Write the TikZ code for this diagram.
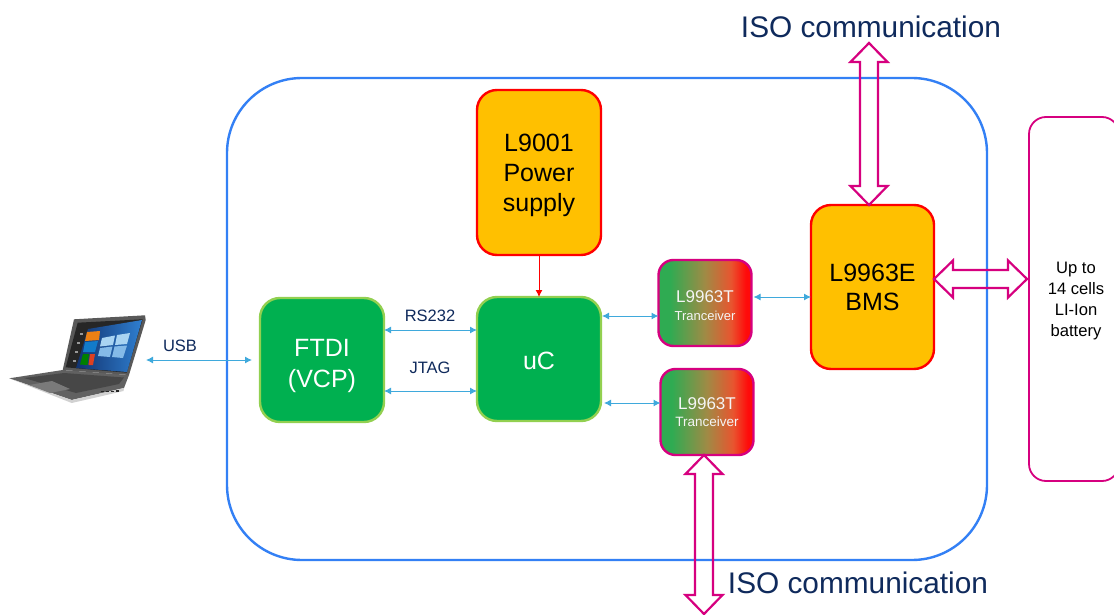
\documentclass[tikz,border=0pt]{standalone}
\usepackage{fontspec}
\setmainfont{Liberation Sans}
\usetikzlibrary{calc,arrows.meta}
\definecolor{frameblue}{HTML}{3380F5}
\definecolor{linkblue}{HTML}{3FA9DC}
\definecolor{magentaline}{HTML}{D6007F}
\definecolor{navytext}{HTML}{0F2A5C}
\definecolor{boxorange}{HTML}{FFC000}
\definecolor{boxgreen}{HTML}{00B050}
\definecolor{boxlime}{HTML}{92D050}
\definecolor{tgreen}{HTML}{2FAB52}
\definecolor{tmid}{HTML}{A08A45}
\definecolor{tburnt}{HTML}{E8552F}
\definecolor{tred}{HTML}{FF0A0A}
\definecolor{wallnavy}{HTML}{12326E}
\definecolor{wallblue}{HTML}{2F7FD0}
\definecolor{walllight}{HTML}{A9D4F2}
\pgfdeclarehorizontalshading{tshade}{100bp}{color(0bp)=(tgreen); color(31bp)=(tgreen); color(50bp)=(tmid); color(64bp)=(tburnt); color(72bp)=(tred); color(100bp)=(tred)}
\newcommand\fatarrow[2]{%
  \coordinate (fa1) at ($#1!19pt!#2$);
  \coordinate (fa2) at ($#2!19pt!#1$);
  \draw[fatline] #1
    -- ($(fa1)!18.5pt!90:#2$) -- ($(fa1)!9pt!90:#2$)
    -- ($(fa2)!9pt!-90:#1$) -- ($(fa2)!18.5pt!-90:#1$)
    -- #2
    -- ($(fa2)!18.5pt!90:#1$) -- ($(fa2)!9pt!90:#1$)
    -- ($(fa1)!9pt!-90:#2$) -- ($(fa1)!18.5pt!-90:#2$) -- cycle;}
\tikzset{
  px/.style={x=1pt,y=-1pt},
  basebox/.style={rounded corners=20pt,line width=2.4pt,outer sep=0pt,inner sep=0pt,align=center,
    font=\fontsize{25}{30}\selectfont},
  orangebox/.style={basebox,draw=red,fill=boxorange,text=black},
  greenbox/.style={basebox,draw=boxlime,fill=boxgreen,text=white},
  tbox/.style={rounded corners=15pt,line width=2.4pt,draw=magentaline,shading=tshade,outer sep=0pt,
    inner sep=0pt,align=center,text=white!96!black,font=\fontsize{17}{19}\selectfont},
  link/.style={draw=linkblue,line width=1pt,{Latex[length=7pt,width=7pt]}-{Latex[length=7pt,width=7pt]}},
  fatline/.style={draw=magentaline,line width=2.2pt,line join=miter},
  smalllabel/.style={text=navytext,font=\fontsize{16.5}{20}\selectfont,inner sep=0pt},
  isolabel/.style={text=navytext,font=\fontsize{29.8}{34}\selectfont,inner sep=0pt},
}
\begin{document}
\begin{tikzpicture}[px]
\useasboundingbox (0,0) rectangle (1114,615);
\begin{scope}
\clip (0,0) rectangle (1114,615);
\node[fill=white,minimum width=1114pt,minimum height=615pt,inner sep=0pt,outer sep=0pt] (bg) at (557,307.5) {};
% enclosure
\node[draw=frameblue,line width=2.4pt,rounded corners=75pt,minimum width=760pt,minimum height=482pt,outer sep=0pt] (frame) at (607,319) {};
% battery
\node[draw=magentaline,line width=1.8pt,rounded corners=17pt,minimum width=90pt,minimum height=364pt,outer sep=0pt] (battery) at (1074,299) {};
\end{scope}
\node[align=center,inner sep=0pt,font=\fontsize{16.6}{21}\selectfont] (battext) at (1076,301.5) {Up to\\14 cells\\LI-Ion\\battery};
% laptop
\fill[black!62] (9.3,378.3) -- (62.7,370) -- (129,375) -- (124,388) -- (71.7,400) -- cycle;
\fill[black!18] (9.3,378.3) -- (71.7,400) -- (124,388) -- (123.5,391) -- (98,397) -- (71.7,403) -- cycle;
\fill[black!72] (24,378) -- (64,373) -- (124,377.5) -- (119,384) -- (76,393) -- cycle;
\fill[black!52] (29,385) -- (52,381) -- (70,389) -- (50,393) -- cycle;
\foreach \q in {101,106,111,116}{\fill[black!85] (\q,396-\q*0.035) rectangle ++(3,-1.6);}
\fill[black!65] (74,319.3) -- (145,315.3) -- (145.7,320) -- (129,375) -- (62.7,370) -- cycle;
\fill[black!85] (77.7,322.7) -- (142.7,319.3) -- (126.7,372.7) -- (65.7,367.3) -- cycle;
\shade[left color=wallnavy,right color=wallblue] (88,329) -- (142,320) -- (127,372) -- (76,368) -- cycle;
\fill[walllight] (102,338) -- (115,335.5) -- (113,345) -- (100,346.5) -- cycle;
\fill[walllight] (117,335) -- (130,333) -- (127,344) -- (115,345) -- cycle;
\fill[walllight!70!wallblue] (100,348) -- (112.5,346.5) -- (110,357) -- (98,356) -- cycle;
\fill[walllight!70!wallblue] (114.5,346.5) -- (127,345.5) -- (123,358) -- (112,357) -- cycle;
\fill[orange!70!brown] (87,332) -- (100,331) -- (99,340) -- (85,341) -- cycle;
\fill[cyan!60!blue] (85,342) -- (98,341) -- (95,352) -- (83,352) -- cycle;
\fill[green!50!black] (83,354) -- (89,354) -- (87.5,365) -- (80,364.5) -- cycle;
\fill[red!50!brown] (90,354) -- (95,354) -- (93,365) -- (88.5,365) -- cycle;
\foreach \q in {0,1,2,3}{\fill[black!40] (79.5-\q*2.2,333+\q*9) rectangle ++(3,1.5);}
% blocks
\node[orangebox,minimum width=124pt,minimum height=165pt] (psu) at (539,172.5) {\rule{0pt}{24pt}L9001\\Power\\supply};
\node[greenbox,font=\fontsize{25}{31}\selectfont,minimum width=124pt,minimum height=124pt] (ftdi) at (322,360) {\rule{0pt}{29pt}FTDI\\(VCP)};
\node[greenbox,minimum width=124pt,minimum height=124pt] (uc) at (539,359) {\rule{0pt}{22pt}uC};
\node[orangebox,font=\fontsize{25}{29}\selectfont,minimum width=123pt,minimum height=164pt] (bms) at (872.5,287) {L9963E\\BMS};
\node[tbox,minimum width=93pt,minimum height=86pt] (t1) at (705,303) {\rule{0pt}{17pt}L9963T\\[-1pt]{\fontsize{13}{15}\selectfont Tranceiver}};
\node[tbox,minimum width=93pt,minimum height=86pt] (t2) at (707,412) {L9963T\\[-2pt]{\fontsize{13.5}{15}\selectfont Tranceiver}};
% free ends
\coordinate (laptopport) at (146,360);
\coordinate (isotop) at (869,43);
\coordinate (isobottom) at (704,614);
% thin connectors
\draw[link] (laptopport) -- ([xshift=-8pt]ftdi.west);
\draw[link] ([yshift=30pt]ftdi.east) -- ([yshift=29pt]uc.west);
\draw[link] ([yshift=-31pt]ftdi.east) -- ([yshift=-32pt]uc.west);
\draw[link] ([yshift=43pt,xshift=1pt]uc.east) -- ([yshift=-13pt]t1.west);
\draw[link] ([yshift=-44pt,xshift=3pt]uc.east) -- ([yshift=9pt]t2.west);
\draw[link] ([yshift=6pt,xshift=2pt]t1.east) -- ([yshift=-10pt]bms.west);
\draw[draw=red,line width=1pt,-{Latex[length=7pt,width=7pt]}] (psu.south) -- (uc.north);
% fat connectors
\fatarrow{(isotop)}{([xshift=-3.5pt]bms.north)}
\fatarrow{([yshift=8pt]bms.east)}{([yshift=20pt,xshift=-2pt]battery.west)}
\fatarrow{([xshift=-3pt]t2.south)}{(isobottom)}
% labels
\node[smalllabel] (usb) at (180,346) {USB};
\node[smalllabel] (rs) at (430,316) {RS232};
\node[smalllabel] (jtag) at (430,367.5) {JTAG};
\node[isolabel] (isoa) at (871,27) {ISO communication};
\node[isolabel] (isob) at (858,583) {ISO communication};
\end{tikzpicture}
\end{document}
